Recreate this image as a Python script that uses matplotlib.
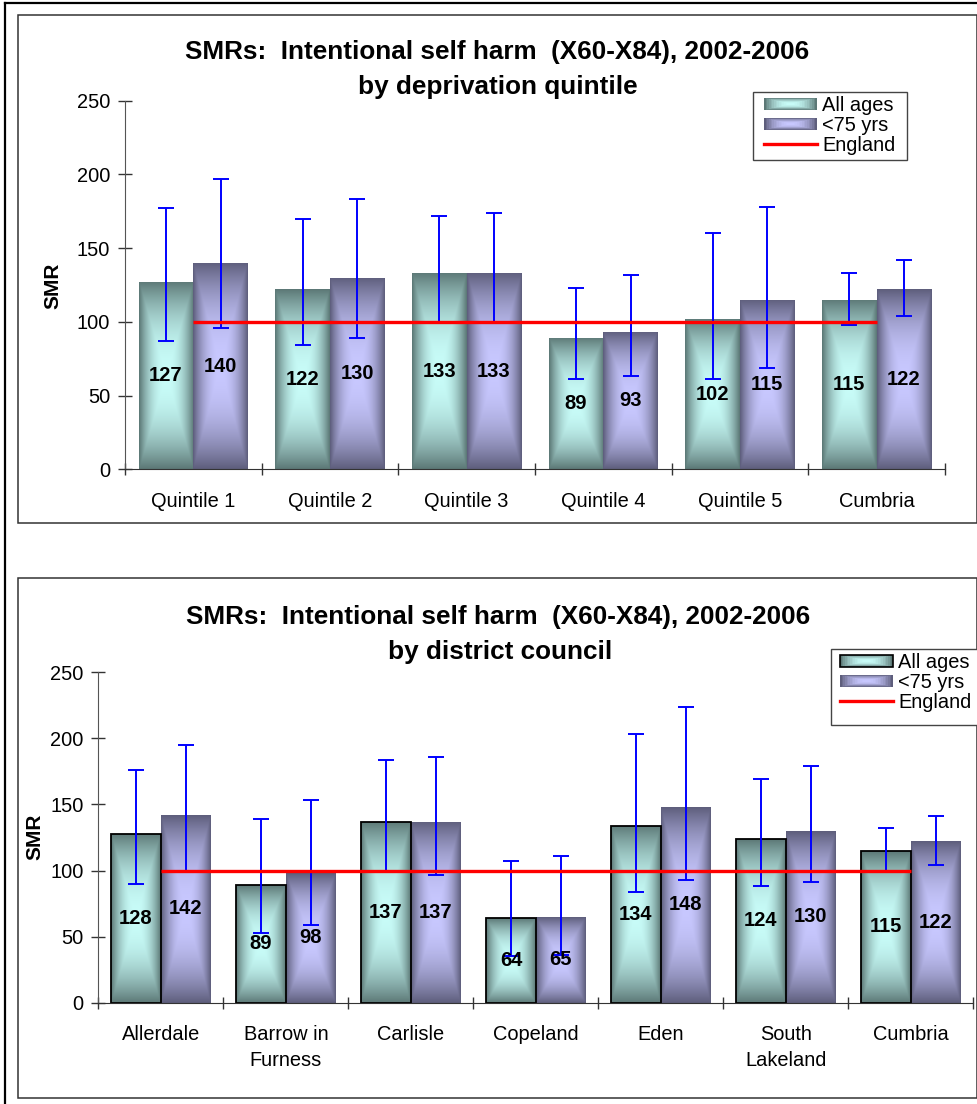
import numpy as np
import matplotlib
matplotlib.use('Agg')
import matplotlib.pyplot as plt
from matplotlib.patches import Rectangle
from matplotlib.lines import Line2D
from matplotlib.legend_handler import HandlerBase

plt.rcParams['font.family'] = ['Liberation Sans', 'DejaVu Sans']

# ---------------- data ----------------
quintile_cats = ['Quintile 1', 'Quintile 2', 'Quintile 3', 'Quintile 4', 'Quintile 5', 'Cumbria']
q_all = [127, 122, 133, 89, 102, 115]
q_all_lo = [87, 84, 100, 61, 61, 98]
q_all_hi = [177, 170, 172, 123, 160, 133]
q_u75 = [140, 130, 133, 93, 115, 122]
q_u75_lo = [96, 89, 100, 63, 69, 104]
q_u75_hi = [197, 183, 174, 132, 178, 142]
q_england = [100, 100, 100, 100, 100, 100]

district_cats = ['Allerdale', 'Barrow in\nFurness', 'Carlisle', 'Copeland', 'Eden', 'South\nLakeland', 'Cumbria']
d_all = [128, 89, 137, 64, 134, 124, 115]
d_all_lo = [90, 53, 99, 35, 84, 88, 99]
d_all_hi = [176, 139, 184, 107, 203, 169, 132]
d_u75 = [142, 98, 137, 65, 148, 130, 122]
d_u75_lo = [100, 59, 97, 36, 93, 91, 104]
d_u75_hi = [195, 153, 186, 111, 224, 179, 141]
d_england = [100, 100, 100, 100, 100, 100, 100]

series_labels = ['All ages', '<75 yrs', 'England']
title_line1 = 'SMRs:  Intentional self harm  (X60-X84), 2002-2006'
title_top2 = 'by deprivation quintile'
title_bot2 = 'by district council'

# ---------------- style ----------------
W, H = 978, 1104
DPI = 100
ALL_DARK = np.array([0x5c, 0x78, 0x76]) / 255
ALL_LIGHT = np.array([0xc8, 0xfc, 0xf8]) / 255
U75_DARK = np.array([0x5e, 0x5e, 0x7c]) / 255
U75_LIGHT = np.array([0xc8, 0xc8, 0xff]) / 255
POWER = 2.2

fig = plt.figure(figsize=(W / DPI, H / DPI), dpi=DPI)
fig.patch.set_facecolor('white')


def px_axes(left, top, right, bottom):
    return fig.add_axes([left / W, 1 - bottom / H, (right - left) / W, (bottom - top) / H])


def gradient_bars(ax, bars, dark, light, outline=False):
    nx, ny = 80, 300
    u = np.linspace(-1, 1, nx)
    v = np.linspace(-1, 1, ny)
    U, V = np.meshgrid(u, v)
    T = np.maximum(np.abs(U), np.abs(V))
    f = (T ** POWER)[..., None]
    img = light[None, None, :] * (1 - f) + dark[None, None, :] * f
    for b in bars:
        x0, y0 = b.get_x(), b.get_y()
        w, h = b.get_width(), b.get_height()
        im = ax.imshow(img, extent=[x0, x0 + w, y0, y0 + h], aspect='auto',
                       origin='lower', interpolation='bilinear', zorder=2.1)
        im.set_clip_path(b)
        if outline:
            ax.add_patch(Rectangle((x0, y0), w, h, fill=False, edgecolor='black',
                                   lw=1.3, zorder=2.2))


class GradientHandler(HandlerBase):
    def __init__(self, dark, light, outline=False, steps=16):
        super().__init__()
        self.dark, self.light, self.outline, self.steps = dark, light, outline, steps

    def create_artists(self, legend, orig_handle, xdescent, ydescent, width, height,
                       fontsize, trans):
        arts = []
        cx = -xdescent + width / 2
        cy = -ydescent + height / 2
        for k in range(self.steps):
            t = 1 - k / self.steps
            f = t ** POWER
            col = self.light * (1 - f) + self.dark * f
            ww, hh = width * t, height * t
            arts.append(Rectangle((cx - ww / 2, cy - hh / 2), ww, hh, facecolor=col,
                                  edgecolor='none', transform=trans))
        if self.outline:
            arts.append(Rectangle((cx - width / 2, cy - height / 2), width, height,
                                  fill=False, edgecolor='black', lw=1.2, transform=trans))
        return arts


def draw_chart(ax, cats, a, alo, ahi, u, ulo, uhi, eng, outline_all, xtick_len):
    n = len(cats)
    x = np.arange(n)
    bw = 0.4
    a = np.array(a); u = np.array(u)
    b1 = ax.bar(x - bw / 2, a, bw, color=ALL_DARK, edgecolor='none', zorder=2)
    b2 = ax.bar(x + bw / 2, u, bw, color=U75_DARK, edgecolor='none', zorder=2)
    gradient_bars(ax, b1, ALL_DARK, ALL_LIGHT, outline=outline_all)
    gradient_bars(ax, b2, U75_DARK, U75_LIGHT, outline=False)
    ax.errorbar(x - bw / 2, a, yerr=[a - np.array(alo), np.array(ahi) - a], fmt='none',
                ecolor='#0000ff', elinewidth=1.4, capsize=5.5, capthick=1.4, zorder=4)
    ax.errorbar(x + bw / 2, u, yerr=[u - np.array(ulo), np.array(uhi) - u], fmt='none',
                ecolor='#0000ff', elinewidth=1.4, capsize=5.5, capthick=1.4, zorder=4)
    ax.plot(x, eng, color='#ff0000', lw=2.4, solid_capstyle='butt', zorder=5)
    for xi, v in zip(x - bw / 2, a):
        ax.text(xi, v / 2, f'{v}', ha='center', va='center', fontsize=14.5,
                fontweight='bold', zorder=6)
    for xi, v in zip(x + bw / 2, u):
        ax.text(xi, v / 2, f'{v}', ha='center', va='center', fontsize=14.5,
                fontweight='bold', zorder=6)
    ax.set_xlim(-0.5, n - 0.5)
    ax.set_ylim(0, 250)
    ax.set_yticks(np.arange(0, 251, 50))
    ax.set_xticks(np.arange(n + 1) - 0.5)
    ax.set_xticklabels([''] * (n + 1))
    ax.set_xticks(x, cats, minor=True)
    for lab in ax.get_xticklabels(minor=True):
        lab.set_linespacing(1.45)
    ax.tick_params(axis='x', which='major', direction='inout', length=xtick_len,
                   width=1, color='#333333')
    ax.tick_params(axis='x', which='minor', length=0, pad=16, labelsize=14.4)
    ax.tick_params(axis='y', direction='inout', length=9.5, width=1, color='#333333',
                   labelsize=14.4, pad=6)
    for s in ('top', 'right'):
        ax.spines[s].set_visible(False)
    ax.spines['left'].set_color('#555555')
    ax.spines['bottom'].set_color('#333333')
    ax.set_facecolor('none')
    return b1, b2


# ---------------- frames ----------------
def fig_rect(x0, y0, x1, y1, **kw):
    r = Rectangle((x0 / W, 1 - y1 / H), (x1 - x0) / W, (y1 - y0) / H,
                  transform=fig.transFigure, **kw)
    fig.add_artist(r)
    return r

fig.add_artist(Line2D([5 / W, 5 / W], [0, 1 - 3 / H], transform=fig.transFigure,
                      color='black', lw=1.6))
fig.add_artist(Line2D([5 / W, 1], [1 - 3 / H, 1 - 3 / H], transform=fig.transFigure,
                      color='black', lw=1.6))
fig_rect(18, 15.5, 977, 523, fill=False, edgecolor='#333333', lw=1.1)
fig_rect(18, 578, 977, 1098, fill=False, edgecolor='#333333', lw=1.1)

# ---------------- top chart ----------------
ax1 = px_axes(125, 100.7, 945, 469.3)
draw_chart(ax1, quintile_cats, q_all, q_all_lo, q_all_hi, q_u75, q_u75_lo, q_u75_hi,
           q_england, outline_all=False, xtick_len=8)
fig.text(497 / W, 1 - 52 / H, title_line1, ha='center', va='center', fontsize=18.8,
         fontweight='bold')
fig.text(498 / W, 1 - 87 / H, title_top2, ha='center', va='center', fontsize=18.8,
         fontweight='bold')
fig.text(53 / W, 1 - 286 / H, 'SMR', rotation=90, ha='center', va='center',
         fontsize=15, fontweight='bold')

# ---------------- bottom chart ----------------
ax2 = px_axes(98.5, 672.3, 973.5, 1002.7)
draw_chart(ax2, district_cats, d_all, d_all_lo, d_all_hi, d_u75, d_u75_lo, d_u75_hi,
           d_england, outline_all=True, xtick_len=9)
fig.text(498 / W, 1 - 617 / H, title_line1, ha='center', va='center', fontsize=18.8,
         fontweight='bold')
fig.text(500 / W, 1 - 652 / H, title_bot2, ha='center', va='center', fontsize=18.8,
         fontweight='bold')
fig.text(35 / W, 1 - 837 / H, 'SMR', rotation=90, ha='center', va='center',
         fontsize=15, fontweight='bold')

# ---------------- legends ----------------
def make_legend(box_px, content_px, outline_all):
    x0, y0, x1, y1 = box_px
    fig_rect(x0, y0, x1, y1, facecolor='white', edgecolor='#444444', lw=1.0, zorder=9)
    h_all = Rectangle((0, 0), 1, 1)
    h_u75 = Rectangle((0, 0), 1, 1)
    h_eng = Line2D([], [], color='#ff0000', lw=2.4)
    leg = fig.legend([h_all, h_u75, h_eng], series_labels,
                     handler_map={h_all: GradientHandler(ALL_DARK, ALL_LIGHT, outline_all),
                                  h_u75: GradientHandler(U75_DARK, U75_LIGHT)},
                     loc='upper left',
                     bbox_to_anchor=(content_px[0] / W, 1 - content_px[1] / H),
                     bbox_transform=fig.transFigure, fontsize=14.4, frameon=False,
                     handlelength=2.65, handleheight=0.55, handletextpad=0.25,
                     labelspacing=0.05, borderpad=0, borderaxespad=0)
    leg.set_zorder(10)
    return leg

make_legend((753, 92, 907, 160), (764, 96), False)
make_legend((831, 649, 990, 725), (840, 653), True)

fig.savefig('out.png', dpi=DPI, facecolor='white')
